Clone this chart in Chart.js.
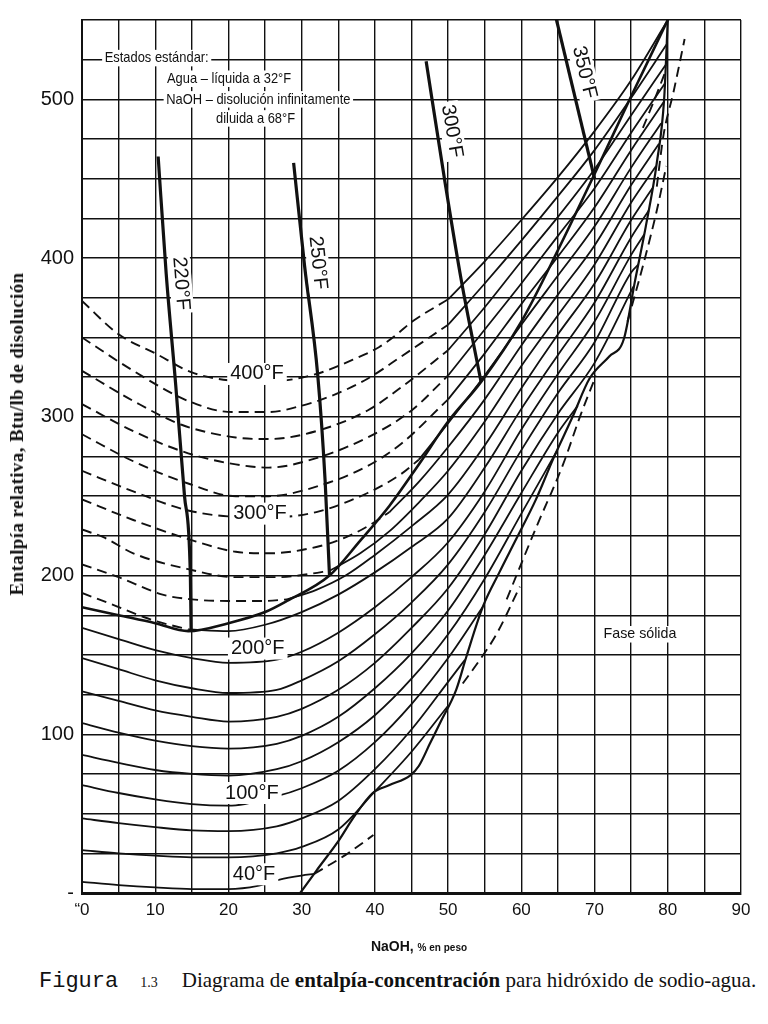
<!DOCTYPE html>
<html>
<head>
<meta charset="utf-8">
<script src="https://cdn.jsdelivr.net/npm/chart.js@4.4.1/dist/chart.umd.min.js"></script>
<style>
  body { margin: 0; background: #fff; width: 768px; height: 1024px; position: relative; overflow: hidden; }
  #wrap { position: absolute; left: 0; top: 0; width: 768px; height: 960px; }
  #ytitle { position: absolute; left: 17px; top: 434px; transform: translate(-50%, -50%) rotate(-90deg);
    white-space: nowrap; font: bold 19px "Liberation Serif", serif; color: #111; letter-spacing: 0.4px; }
  #xtitle { position: absolute; left: 419px; top: 946px; transform: translate(-50%, -50%);
    white-space: nowrap; font: bold 14px "Liberation Sans", sans-serif; color: #111; }
  #xtitle span { font-size: 10px; }
  #caption { position: absolute; left: 39px; top: 968px; white-space: nowrap;
    font: 21px "Liberation Serif", serif; color: #111; }
  #caption .mono { font: 22px "Liberation Mono", monospace; }
  #caption .num { font-size: 14px; margin: 0 24px 0 22px; }
</style>
</head>
<body>
<div id="wrap"><canvas id="grafico" width="768" height="960"></canvas></div>
<div id="ytitle">Entalpía relativa, Btu/lb de disolución</div>
<div id="xtitle">NaOH, <span>% en peso</span></div>
<div id="caption"><span class="mono">Figura</span><span class="num">1.3</span>Diagrama de <b>entalpía-concentración</b> para hidróxido de sodio-agua.</div>
<script>
// eixos: NaOH % em peso (x) e entalpia Btu/lb (y)
const xTickValues = [0, 10, 20, 30, 40, 50, 60, 70, 80, 90];
const xTickText = ['“0', '10', '20', '30', '40', '50', '60', '70', '80', '90'];
const yTickValues = [0, 100, 200, 300, 400, 500];
const yTickText = ['-', '100', '200', '300', '400', '500'];

// isotermas abaixo de 212 F (linhas cheias)
const iso40 = [[0,7],[5,5],[10,3.5],[15,2.5],[20,2.5],[24,4.5],[27,8.5],[30,11],[31.7,12]];
const iso60 = [[0,27],[5,25],[10,23.5],[15,22.5],[20,22.5],[26.6,25],[30,29],[35,40],[40,64],[45,89],[50,118]];
const iso80 = [[0,47],[5,44],[10,41.5],[15,39.5],[20,39],[26.6,42],[30,47],[35,58],[40,78],[45,103],[50,133],[52.3,147]];
const iso100 = [[0,68],[5,63],[10,59],[15,56],[20,55],[26.6,61],[30,66],[35,77],[40,95],[45,119],[50,148],[54.7,180]];
const iso120 = [[0,87],[5,82],[10,77.5],[15,75],[20,74],[26.6,78],[30,83],[35,95],[40,112],[45,135],[50,163],[55,198],[60,239],[64.8,278]];
const iso140 = [[0,107],[5,101],[10,96],[15,92.5],[20,91],[26.6,94],[30,99],[35,111],[40,129],[45,151],[50,178],[55,213],[60,252],[65,290],[67.7,307]];
const iso160 = [[0,127],[5,121],[10,115],[15,111],[20,108],[26.6,111],[30,116],[35,128],[40,145],[45,167],[50,192],[55,226],[60,266],[65,302],[70,334],[75.3,382]];
const iso180 = [[0,148],[5,141],[10,134],[15,129],[20,126],[26.6,128],[30,134],[35,146],[40,163],[45,183],[50,207],[55,240],[60,279],[65,315],[70,347],[75,391],[76,396]];
const iso200 = [[0,167],[5,160],[10,153],[15,148],[20,145],[26.6,147],[30,152],[35,164],[40,180],[45,199],[50,221],[55,253],[60,292],[65,327],[70,360],[75,402],[76.8,415]];

// isotermas acima do ponto de ebulicao: parte tracejada e parte cheia
const iso220dash = [[0,189],[4,182],[9.6,172],[14.5,166]];
const iso220 = [[14.5,166],[20,165],[25,169],[30,177],[35,188],[40,202],[45,218],[50,236],[55,268],[60,305],[65,339],[70,372],[75,413],[77.4,430]];
const iso240dash = [[0,207],[5,199],[11,188],[15,185],[20,184],[25,184],[28,185]];
const iso240 = [[28,185],[32,191],[36,200],[40,213],[45,231],[50,251],[55,282],[60,318],[65,352],[70,384],[75,424],[77.9,444]];
const iso260dash = [[0,229],[3,224],[7,214],[14.5,204],[21,199],[27,199],[31,201],[33.8,203]];
const iso260 = [[33.8,203],[38,214],[42,228],[46,246],[50,266],[55,297],[60,332],[65,364],[70,396],[75,435],[78.4,458]];
const iso280dash = [[0,248],[7,235],[14.5,223],[21,215],[25.5,214],[32,218],[36,224],[39,231],[42,240]];
const iso280 = [[42,240],[46,259],[50,281],[55,311],[60,345],[65,377],[70,408],[75,446],[78.8,472]];
const iso300dash = [[0,266],[7,253],[14.5,241],[22,237],[27,237],[32,240],[39,252],[43.6,264],[46,273]];
const iso300 = [[46,273],[50,296],[55,326],[60,358],[65,389],[70,420],[75,457],[79.1,485]];
const iso320dash = [[0,289],[7,272],[14.5,258],[21,250],[25.5,250],[32,256],[39,269],[43.6,283],[50,311]];
const iso320 = [[50,311],[55,340],[60,371],[65,401],[70,432],[75,468],[79.4,498]];
const iso340dash = [[0,308],[7,291],[14.5,277],[21,270],[25.5,268],[32,274],[39,287],[45,304],[50,326]];
const iso340 = [[50,326],[55,355],[60,384],[65,414],[70,444],[75,479],[79.6,510]];
const iso360dash = [[0,329],[7,310],[13.6,295],[21,287],[25.5,286],[32,291],[39,304],[44,320],[50,342]];
const iso360 = [[50,342],[55,369],[60,398],[65,426],[70,456],[75,490],[79.75,522]];
const iso380dash = [[0,350],[7,329],[14.5,310],[20.5,303],[25.5,303],[30,307],[34.5,314],[39,324],[43.6,338],[50,358]];
const iso380 = [[50,358],[55,384],[60,411],[65,439],[70,468],[75,501],[79.9,535]];
const iso400dash = [[0,373],[5,352],[10,340],[15,328],[20,323],[25,322],[32,327],[37,336],[40.6,344],[43,352],[45.1,360],[50,374]];
const iso400 = [[50,374],[55,398],[60,424],[65,451],[70,480],[75,512],[80,550]];

// curva de ebulicao a 1 atm
const ebulicao = [[0,180],[5,175],[10,170],[14.5,165],[20,170],[25,177],[28,184],[33.8,200],[38,222],[42,244],[46,270],[50,297],[54.5,322],[60,360],[65,405],[70,453],[75,502],[80,550]];

// linhas grossas de ponto de ebulicao constante
const pe220 = [[10.4,464],[11.5,390],[12.8,320],[14,250],[14.8,200],[14.9,166]];
const pe250 = [[28.9,460],[30.4,395],[32.2,326],[33.2,260],[33.8,200]];
const pe300 = [[47,524],[49.5,450],[51.8,386],[54.5,322]];
const pe350 = [[64.7,552],[70,450]];

// limite da fase solida
const fronteira = [[29.8,0],[32,14],[35.2,34],[37,47],[39.7,63],[42,68],[44.8,74],[46,80],[47.5,94],[49,108],[51.1,128],[52.5,149],[54.8,181],[57,202],[59.3,223],[62,248],[64.4,274],[67,300],[69.3,324],[72,338],[74,349],[75.5,385],[77,420],[78.5,460],[79.5,500],[80,550]];

// prolongamentos tracejados alem da fronteira
const ext1 = [[31.7,12],[36,24],[39.8,36.5]];
const ext2 = [[52,132],[54.5,148],[56.6,163],[59.8,193]];
const ext3 = [[58,185],[62,230],[65.7,270],[68,300],[70.2,326]];
const ext4 = [[74.5,360],[76.6,395],[78.5,430],[79.8,458]];
const ext5 = [[76.6,482],[78.2,500],[79.8,519]];
const ext6 = [[78.5,445],[79.4,477],[80.8,505],[82.3,538]];

const TRACO = [10, 6];

function linha(pts, largura, tracejado) {
  return {
    data: pts.map(p => ({ x: p[0], y: p[1] })),
    showLine: true,
    borderColor: '#111',
    borderWidth: largura,
    borderDash: tracejado || [],
    pointRadius: 0,
    cubicInterpolationMode: 'monotone',
    fill: false
  };
}

const cheias = [iso40, iso60, iso80, iso100, iso120, iso140, iso160, iso180, iso200,
  iso220, iso240, iso260, iso280, iso300, iso320, iso340, iso360, iso380, iso400];
const tracejadas = [iso220dash, iso240dash, iso260dash, iso280dash, iso300dash, iso320dash,
  iso340dash, iso360dash, iso380dash, iso400dash, ext1, ext2, ext3, ext4, ext5, ext6];

let datasets = [];
cheias.forEach(c => datasets.push(linha(c, 1.8)));
tracejadas.forEach(c => datasets.push(linha(c, 1.9, TRACO)));
datasets.push(linha(ebulicao, 2.6));
datasets.push(linha(fronteira, 2.2));
[pe220, pe250, pe300, pe350].forEach(c => datasets.push(linha(c, 3.2)));

// textos sobre o grafico (posicao em coordenadas de dados)
function texto(ctx, s, px, py, fonte, ang, cond, alinhamento) {
  ctx.save();
  ctx.translate(px, py);
  ctx.rotate(ang * Math.PI / 180);
  ctx.scale(cond, 1);
  ctx.font = fonte;
  ctx.textAlign = alinhamento;
  ctx.textBaseline = 'middle';
  let w = ctx.measureText(s).width;
  let h = parseInt(fonte.match(/(\d+)px/)[1]);
  let x0 = alinhamento === 'left' ? 0 : -w / 2;
  ctx.fillStyle = '#fff';
  ctx.fillRect(x0 - 3, -h * 0.55, w + 6, h * 1.1);
  ctx.fillStyle = '#111';
  ctx.fillText(s, 0, 0);
  ctx.restore();
}

const rotulos = {
  id: 'rotulos',
  afterDatasetsDraw(chart) {
    let ctx = chart.ctx;
    let sx = chart.scales.x, sy = chart.scales.y;
    let P = (x, y) => [sx.getPixelForValue(x), sy.getPixelForValue(y)];
    let f = '20px "Liberation Sans", Arial, sans-serif';
    [['400°F', 23.9, 327], ['300°F', 24.3, 239], ['200°F', 24, 154], ['100°F', 23.2, 63], ['40°F', 23.5, 11.8]]
      .forEach(r => { let p = P(r[1], r[2]); texto(ctx, r[0], p[0], p[1], f, 0, 1, 'center'); });
    [['220°F', 13.5, 384, 85.6], ['250°F', 32.2, 397, 84], ['300°F', 50.5, 480, 80.3], ['350°F', 68.6, 517, 76.4]]
      .forEach(r => { let p = P(r[1], r[2]); texto(ctx, r[0], p[0], p[1], f, r[3], 1, 'center'); });
    let g = '15px "Liberation Sans", Arial, sans-serif';
    [['Estados estándar:', 3.1, 526], ['Agua – líquida a 32°F', 11.6, 513],
     ['NaOH – disolución infinitamente', 11.5, 500], ['diluida a 68°F', 18.3, 488]]
      .forEach(r => { let p = P(r[1], r[2]); texto(ctx, r[0], p[0], p[1], g, 0, 0.86, 'left'); });
    let p = P(76.2, 163);
    texto(ctx, 'Fase sólida', p[0], p[1], g, 0, 0.95, 'center');
  }
};

window.onload = function () {
  let ctx = document.getElementById('grafico').getContext('2d');
  window.diagrama = new Chart(ctx, {
    type: 'scatter',
    data: { datasets: datasets },
    options: {
      responsive: false,
      animation: false,
      devicePixelRatio: 1,
      layout: { padding: { top: 20, right: 27, bottom: 0, left: 0 } },
      plugins: { legend: { display: false }, tooltip: { enabled: false } },
      scales: {
        x: {
          type: 'linear', min: 0, max: 90,
          afterFit: s => { s.height = 67; },
          ticks: {
            stepSize: 5, autoSkip: false, maxRotation: 0, padding: 7, color: '#111',
            font: { family: '"Liberation Sans", Arial, sans-serif', size: 17 },
            callback: v => { let i = xTickValues.indexOf(v); return i >= 0 ? xTickText[i] : ''; }
          },
          grid: { color: '#111', lineWidth: 1.4, drawTicks: false },
          border: { color: '#111', width: 3 }
        },
        y: {
          type: 'linear', min: 0, max: 550,
          afterFit: s => { s.width = 82; },
          ticks: {
            stepSize: 25, autoSkip: false, padding: 8, color: '#111',
            font: { family: '"Liberation Sans", Arial, sans-serif', size: 20 },
            callback: v => { let i = yTickValues.indexOf(v); return i >= 0 ? yTickText[i] : ''; }
          },
          grid: { color: '#111', lineWidth: 1.4, drawTicks: false },
          border: { color: '#111', width: 2 }
        }
      }
    },
    plugins: [rotulos]
  });
};
</script>
</body>
</html>
